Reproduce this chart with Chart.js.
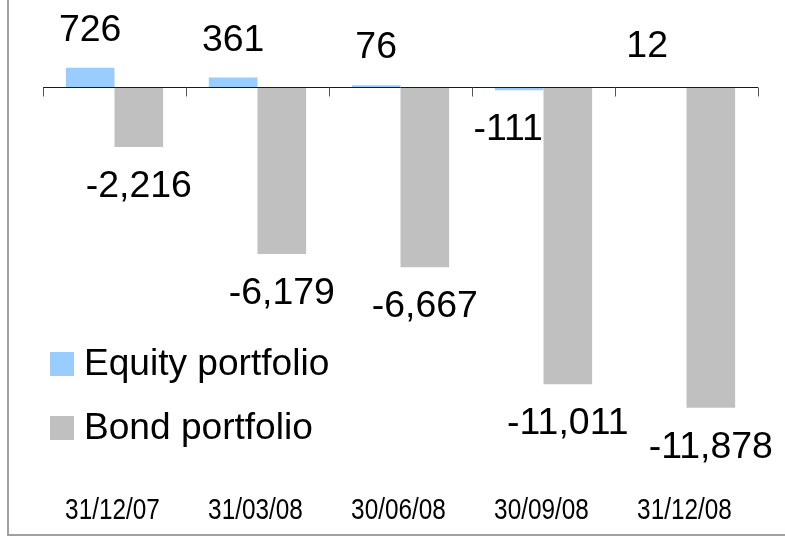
<!DOCTYPE html>
<html>
<head>
<meta charset="utf-8">
<script src="https://cdn.jsdelivr.net/npm/chart.js@4.4.1/dist/chart.umd.min.js"></script>
<style>
  html, body { margin: 0; padding: 0; background: #fff; overflow: hidden; }
  #wrap { position: relative; width: 785px; height: 538px; }
  #frame {
    position: absolute; left: 7px; top: -4px; width: 800px; height: 538px;
    border-left: 2px solid #a0a0a0; border-bottom: 2px solid #a0a0a0;
  }
  #chart { position: absolute; left: 0; top: 0; }
</style>
</head>
<body>
<div id="wrap">
  <div id="frame"></div>
  <canvas id="chart" width="785" height="538"></canvas>
</div>
<script>
const quarters = ['31/12/07', '31/03/08', '30/06/08', '30/09/08', '31/12/08'];
const equityValues = [726, 361, 76, -111, 12];
const bondValues = [-2216, -6179, -6667, -11011, -11878];
const seriesNames = ['Equity portfolio', 'Bond portfolio'];

const FONT = "'Liberation Sans', Arial, sans-serif";

// zero line with the small category tick marks hanging under it
const zeroAxis = {
    id: 'zeroAxis',
    afterDatasetsDraw(chart) {
        const { ctx, chartArea, scales: { x, y } } = chart;
        const y0 = Math.round(y.getPixelForValue(0)) + 0.5;
        ctx.save();
        ctx.strokeStyle = '#1a1a1a';
        ctx.lineWidth = 1;
        ctx.beginPath();
        ctx.moveTo(chartArea.left, y0);
        ctx.lineTo(chartArea.right, y0);
        ctx.stroke();
        ctx.strokeStyle = '#555';
        ctx.beginPath();
        for (let i = 0; i <= quarters.length; i++) {
            const px = Math.round(x.getPixelForValue(i - 0.5)) + 0.5;
            ctx.moveTo(px, y0);
            ctx.lineTo(px, y0 + 9);
        }
        ctx.stroke();
        ctx.restore();
    }
};

// narrow date labels along the bottom, one per category
const dateLabels = {
    id: 'dateLabels',
    afterDraw(chart) {
        const { ctx, chartArea, scales: { x } } = chart;
        ctx.save();
        ctx.font = '29px ' + FONT;
        ctx.fillStyle = '#000';
        ctx.textAlign = 'center';
        ctx.textBaseline = 'alphabetic';
        chart.data.labels.forEach((lbl, i) => {
            ctx.save();
            ctx.translate(x.getPixelForTick(i) - 2, chartArea.bottom + 54.4);
            ctx.scale(0.84, 1);
            ctx.fillText(lbl, 0, 0);
            ctx.restore();
        });
        ctx.restore();
    }
};

// value labels outside each bar end
const valueLabels = {
    id: 'valueLabels',
    afterDatasetsDraw(chart, args, opts) {
        const { ctx } = chart;
        ctx.save();
        ctx.font = '36px ' + FONT;
        ctx.fillStyle = '#000';
        ctx.textAlign = 'center';
        ctx.textBaseline = 'alphabetic';
        chart.data.datasets.forEach((ds, di) => {
            const meta = chart.getDatasetMeta(di);
            meta.data.forEach((bar, i) => {
                const v = ds.data[i];
                const shift = (opts.shift[di] && opts.shift[di][i]) || { dx: 0, dy: 0 };
                const ty = v >= 0 ? bar.y - 27 : bar.y + 50;
                ctx.save();
                ctx.translate(bar.x + shift.dx, ty + shift.dy);
                ctx.scale(1.04, 1);
                ctx.fillText(v.toLocaleString('en-US'), 0, 0);
                ctx.restore();
            });
        });
        ctx.restore();
    }
};

// legend sitting inside the plot, lower left
const innerLegend = {
    id: 'innerLegend',
    afterDraw(chart) {
        const { ctx } = chart;
        ctx.save();
        ctx.font = '36px ' + FONT;
        ctx.textBaseline = 'alphabetic';
        ctx.textAlign = 'left';
        chart.data.datasets.forEach((ds, i) => {
            const top = 352 + i * 64;
            ctx.fillStyle = ds.backgroundColor;
            ctx.fillRect(50, top, 24, 24);
            ctx.fillStyle = '#000';
            ctx.save();
            ctx.translate(84, top + 23);
            ctx.scale(1.03, 1);
            ctx.fillText(ds.label, 0, 0);
            ctx.restore();
        });
        ctx.restore();
    }
};

new Chart(document.getElementById('chart'), {
    type: 'bar',
    data: {
        labels: quarters,
        datasets: [
            { label: seriesNames[0], data: equityValues, backgroundColor: '#99ccff' },
            { label: seriesNames[1], data: bondValues, backgroundColor: '#c0c0c0' }
        ]
    },
    options: {
        responsive: false,
        animation: false,
        events: [],
        layout: { padding: { left: 43, right: 27, top: 33.4, bottom: 73.1 } },
        datasets: {
            bar: { categoryPercentage: 0.68, barPercentage: 1 }
        },
        plugins: {
            legend: { display: false },
            tooltip: { enabled: false },
            valueLabels: {
                shift: { 0: { 3: { dx: -11, dy: 0 }, 4: { dx: -15, dy: -3 } } }
            }
        },
        scales: {
            x: { display: false },
            y: {
                display: false,
                min: -14000,
                max: 2000
            }
        }
    },
    plugins: [zeroAxis, valueLabels, dateLabels, innerLegend]
});
</script>
</body>
</html>
